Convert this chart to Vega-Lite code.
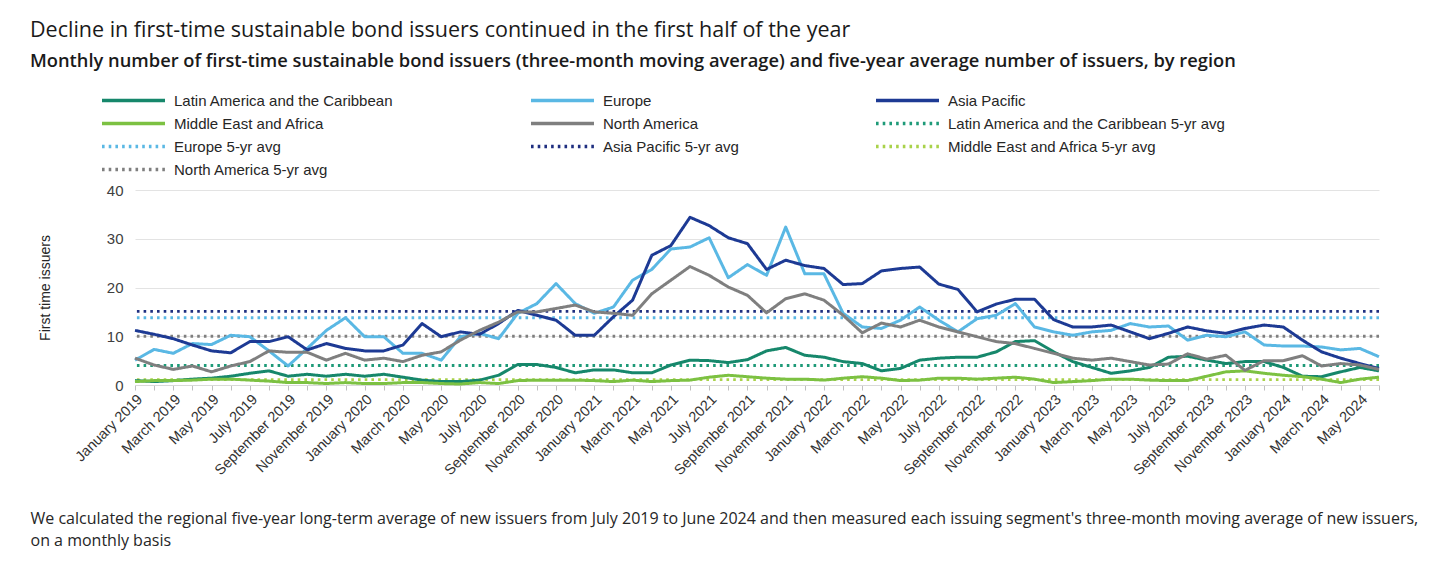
{
  "$schema": "https://vega.github.io/schema/vega-lite/v6.json",
  "autosize": {"type": "none"},
  "width": 1244,
  "height": 195,
  "padding": {"left": 135, "top": 190, "right": 59, "bottom": 179},
  "background": "white",
  "title": {
    "text": "Decline in first-time sustainable bond issuers continued in the first half of the year",
    "subtitle": "Monthly number of first-time sustainable bond issuers (three-month moving average) and five-year average number of issuers, by region",
    "anchor": "start",
    "frame": "group",
    "dx": -105,
    "font": "Open Sans",
    "fontSize": 21.5,
    "fontWeight": 400,
    "color": "#1a1a1a",
    "subtitleFont": "Open Sans",
    "subtitleFontSize": 18.3,
    "subtitleFontWeight": 600,
    "subtitleColor": "#1a1a1a",
    "subtitlePadding": 11,
    "offset": 19
  },
  "datasets": {
    "monthly": [
      {"m": "2019-01-15", "Latin America and the Caribbean": 0.9, "Europe": 5.1, "Asia Pacific": 11.2, "Middle East and Africa": 0.7, "North America": 5.5},
      {"m": "2019-02-15", "Latin America and the Caribbean": 0.7, "Europe": 7.3, "Asia Pacific": 10.4, "Middle East and Africa": 0.9, "North America": 4.1},
      {"m": "2019-03-15", "Latin America and the Caribbean": 0.9, "Europe": 6.5, "Asia Pacific": 9.5, "Middle East and Africa": 0.9, "North America": 3.2},
      {"m": "2019-04-15", "Latin America and the Caribbean": 1.2, "Europe": 8.5, "Asia Pacific": 8.2, "Middle East and Africa": 1.0, "North America": 3.9},
      {"m": "2019-05-15", "Latin America and the Caribbean": 1.4, "Europe": 8.3, "Asia Pacific": 7.0, "Middle East and Africa": 1.2, "North America": 2.7},
      {"m": "2019-06-15", "Latin America and the Caribbean": 1.8, "Europe": 10.2, "Asia Pacific": 6.6, "Middle East and Africa": 1.2, "North America": 3.9},
      {"m": "2019-07-15", "Latin America and the Caribbean": 2.4, "Europe": 9.9, "Asia Pacific": 8.9, "Middle East and Africa": 1.0, "North America": 4.8},
      {"m": "2019-08-15", "Latin America and the Caribbean": 2.9, "Europe": 7.0, "Asia Pacific": 8.9, "Middle East and Africa": 0.8, "North America": 7.0},
      {"m": "2019-09-15", "Latin America and the Caribbean": 1.8, "Europe": 3.9, "Asia Pacific": 9.9, "Middle East and Africa": 0.5, "North America": 6.7},
      {"m": "2019-10-15", "Latin America and the Caribbean": 2.2, "Europe": 7.5, "Asia Pacific": 7.2, "Middle East and Africa": 0.5, "North America": 6.7},
      {"m": "2019-11-15", "Latin America and the Caribbean": 1.8, "Europe": 11.2, "Asia Pacific": 8.5, "Middle East and Africa": 0.3, "North America": 5.1},
      {"m": "2019-12-15", "Latin America and the Caribbean": 2.2, "Europe": 13.8, "Asia Pacific": 7.5, "Middle East and Africa": 0.5, "North America": 6.5},
      {"m": "2020-01-15", "Latin America and the Caribbean": 1.8, "Europe": 9.9, "Asia Pacific": 7.0, "Middle East and Africa": 0.3, "North America": 5.1},
      {"m": "2020-02-15", "Latin America and the Caribbean": 2.2, "Europe": 9.9, "Asia Pacific": 7.0, "Middle East and Africa": 0.3, "North America": 5.5},
      {"m": "2020-03-15", "Latin America and the Caribbean": 1.6, "Europe": 6.5, "Asia Pacific": 8.2, "Middle East and Africa": 0.5, "North America": 4.8},
      {"m": "2020-04-15", "Latin America and the Caribbean": 1.0, "Europe": 6.5, "Asia Pacific": 12.6, "Middle East and Africa": 0.5, "North America": 6.1},
      {"m": "2020-05-15", "Latin America and the Caribbean": 0.7, "Europe": 5.1, "Asia Pacific": 9.9, "Middle East and Africa": 0.3, "North America": 6.8},
      {"m": "2020-06-15", "Latin America and the Caribbean": 0.7, "Europe": 9.9, "Asia Pacific": 10.9, "Middle East and Africa": 0.2, "North America": 9.2},
      {"m": "2020-07-15", "Latin America and the Caribbean": 1.0, "Europe": 10.6, "Asia Pacific": 10.4, "Middle East and Africa": 0.5, "North America": 11.2},
      {"m": "2020-08-15", "Latin America and the Caribbean": 2.0, "Europe": 9.5, "Asia Pacific": 12.6, "Middle East and Africa": 0.3, "North America": 12.9},
      {"m": "2020-09-15", "Latin America and the Caribbean": 4.2, "Europe": 14.7, "Asia Pacific": 15.3, "Middle East and Africa": 0.9, "North America": 15.0},
      {"m": "2020-10-15", "Latin America and the Caribbean": 4.2, "Europe": 16.7, "Asia Pacific": 14.3, "Middle East and Africa": 1.0, "North America": 15.0},
      {"m": "2020-11-15", "Latin America and the Caribbean": 3.6, "Europe": 20.8, "Asia Pacific": 13.3, "Middle East and Africa": 1.0, "North America": 15.7},
      {"m": "2020-12-15", "Latin America and the Caribbean": 2.5, "Europe": 16.7, "Asia Pacific": 10.2, "Middle East and Africa": 1.0, "North America": 16.4},
      {"m": "2021-01-15", "Latin America and the Caribbean": 3.1, "Europe": 14.7, "Asia Pacific": 10.2, "Middle East and Africa": 0.9, "North America": 15.0},
      {"m": "2021-02-15", "Latin America and the Caribbean": 3.1, "Europe": 16.0, "Asia Pacific": 14.0, "Middle East and Africa": 0.7, "North America": 14.7},
      {"m": "2021-03-15", "Latin America and the Caribbean": 2.5, "Europe": 21.5, "Asia Pacific": 17.4, "Middle East and Africa": 1.0, "North America": 14.3},
      {"m": "2021-04-15", "Latin America and the Caribbean": 2.5, "Europe": 23.7, "Asia Pacific": 26.6, "Middle East and Africa": 0.7, "North America": 18.7},
      {"m": "2021-05-15", "Latin America and the Caribbean": 4.1, "Europe": 27.9, "Asia Pacific": 28.6, "Middle East and Africa": 0.9, "North America": 21.5},
      {"m": "2021-06-15", "Latin America and the Caribbean": 5.1, "Europe": 28.3, "Asia Pacific": 34.4, "Middle East and Africa": 1.0, "North America": 24.3},
      {"m": "2021-07-15", "Latin America and the Caribbean": 5.0, "Europe": 30.2, "Asia Pacific": 32.7, "Middle East and Africa": 1.6, "North America": 22.5},
      {"m": "2021-08-15", "Latin America and the Caribbean": 4.6, "Europe": 22.0, "Asia Pacific": 30.2, "Middle East and Africa": 2.0, "North America": 20.1},
      {"m": "2021-09-15", "Latin America and the Caribbean": 5.2, "Europe": 24.7, "Asia Pacific": 29.0, "Middle East and Africa": 1.7, "North America": 18.4},
      {"m": "2021-10-15", "Latin America and the Caribbean": 7.0, "Europe": 22.5, "Asia Pacific": 23.7, "Middle East and Africa": 1.4, "North America": 14.8},
      {"m": "2021-11-15", "Latin America and the Caribbean": 7.7, "Europe": 32.4, "Asia Pacific": 25.6, "Middle East and Africa": 1.2, "North America": 17.7},
      {"m": "2021-12-15", "Latin America and the Caribbean": 6.1, "Europe": 22.8, "Asia Pacific": 24.5, "Middle East and Africa": 1.2, "North America": 18.7},
      {"m": "2022-01-15", "Latin America and the Caribbean": 5.7, "Europe": 22.8, "Asia Pacific": 23.9, "Middle East and Africa": 1.0, "North America": 17.4},
      {"m": "2022-02-15", "Latin America and the Caribbean": 4.8, "Europe": 14.7, "Asia Pacific": 20.6, "Middle East and Africa": 1.4, "North America": 14.3},
      {"m": "2022-03-15", "Latin America and the Caribbean": 4.4, "Europe": 11.9, "Asia Pacific": 20.8, "Middle East and Africa": 1.7, "North America": 10.7},
      {"m": "2022-04-15", "Latin America and the Caribbean": 2.9, "Europe": 11.6, "Asia Pacific": 23.4, "Middle East and Africa": 1.4, "North America": 12.7},
      {"m": "2022-05-15", "Latin America and the Caribbean": 3.4, "Europe": 13.3, "Asia Pacific": 23.9, "Middle East and Africa": 0.9, "North America": 11.9},
      {"m": "2022-06-15", "Latin America and the Caribbean": 5.1, "Europe": 16.0, "Asia Pacific": 24.2, "Middle East and Africa": 1.0, "North America": 13.3},
      {"m": "2022-07-15", "Latin America and the Caribbean": 5.5, "Europe": 13.3, "Asia Pacific": 20.7, "Middle East and Africa": 1.4, "North America": 11.9},
      {"m": "2022-08-15", "Latin America and the Caribbean": 5.7, "Europe": 10.9, "Asia Pacific": 19.6, "Middle East and Africa": 1.4, "North America": 10.9},
      {"m": "2022-09-15", "Latin America and the Caribbean": 5.7, "Europe": 13.6, "Asia Pacific": 15.0, "Middle East and Africa": 1.2, "North America": 9.9},
      {"m": "2022-10-15", "Latin America and the Caribbean": 6.8, "Europe": 14.3, "Asia Pacific": 16.6, "Middle East and Africa": 1.4, "North America": 8.9},
      {"m": "2022-11-15", "Latin America and the Caribbean": 8.9, "Europe": 16.7, "Asia Pacific": 17.6, "Middle East and Africa": 1.6, "North America": 8.5},
      {"m": "2022-12-15", "Latin America and the Caribbean": 9.1, "Europe": 11.9, "Asia Pacific": 17.6, "Middle East and Africa": 1.2, "North America": 7.5},
      {"m": "2023-01-15", "Latin America and the Caribbean": 6.8, "Europe": 10.9, "Asia Pacific": 13.4, "Middle East and Africa": 0.5, "North America": 6.5},
      {"m": "2023-02-15", "Latin America and the Caribbean": 4.8, "Europe": 10.2, "Asia Pacific": 11.9, "Middle East and Africa": 0.7, "North America": 5.5},
      {"m": "2023-03-15", "Latin America and the Caribbean": 3.6, "Europe": 10.9, "Asia Pacific": 11.9, "Middle East and Africa": 0.9, "North America": 5.1},
      {"m": "2023-04-15", "Latin America and the Caribbean": 2.4, "Europe": 11.2, "Asia Pacific": 12.3, "Middle East and Africa": 1.2, "North America": 5.5},
      {"m": "2023-05-15", "Latin America and the Caribbean": 2.9, "Europe": 12.6, "Asia Pacific": 10.9, "Middle East and Africa": 1.2, "North America": 4.8},
      {"m": "2023-06-15", "Latin America and the Caribbean": 3.6, "Europe": 11.9, "Asia Pacific": 9.5, "Middle East and Africa": 1.0, "North America": 4.1},
      {"m": "2023-07-15", "Latin America and the Caribbean": 5.7, "Europe": 12.1, "Asia Pacific": 10.6, "Middle East and Africa": 0.9, "North America": 4.3},
      {"m": "2023-08-15", "Latin America and the Caribbean": 5.9, "Europe": 9.2, "Asia Pacific": 11.9, "Middle East and Africa": 0.9, "North America": 6.4},
      {"m": "2023-09-15", "Latin America and the Caribbean": 5.1, "Europe": 10.2, "Asia Pacific": 11.1, "Middle East and Africa": 1.8, "North America": 5.3},
      {"m": "2023-10-15", "Latin America and the Caribbean": 4.4, "Europe": 9.9, "Asia Pacific": 10.6, "Middle East and Africa": 2.7, "North America": 6.1},
      {"m": "2023-11-15", "Latin America and the Caribbean": 4.8, "Europe": 10.9, "Asia Pacific": 11.6, "Middle East and Africa": 2.9, "North America": 3.0},
      {"m": "2023-12-15", "Latin America and the Caribbean": 4.8, "Europe": 8.2, "Asia Pacific": 12.3, "Middle East and Africa": 2.4, "North America": 5.0},
      {"m": "2024-01-15", "Latin America and the Caribbean": 3.6, "Europe": 8.0, "Asia Pacific": 11.9, "Middle East and Africa": 2.0, "North America": 5.0},
      {"m": "2024-02-15", "Latin America and the Caribbean": 1.8, "Europe": 8.0, "Asia Pacific": 9.2, "Middle East and Africa": 1.7, "North America": 6.0},
      {"m": "2024-03-15", "Latin America and the Caribbean": 1.7, "Europe": 7.8, "Asia Pacific": 6.8, "Middle East and Africa": 1.2, "North America": 3.9},
      {"m": "2024-04-15", "Latin America and the Caribbean": 2.7, "Europe": 7.2, "Asia Pacific": 5.5, "Middle East and Africa": 0.5, "North America": 4.4},
      {"m": "2024-05-15", "Latin America and the Caribbean": 3.6, "Europe": 7.5, "Asia Pacific": 4.4, "Middle East and Africa": 1.2, "North America": 4.1},
      {"m": "2024-06-15", "Latin America and the Caribbean": 2.9, "Europe": 5.8, "Asia Pacific": 3.4, "Middle East and Africa": 1.6, "North America": 3.2}
    ],
    "averages": [
      {"series": "Latin America and the Caribbean 5-yr avg", "value": 4.0},
      {"series": "Europe 5-yr avg", "value": 13.8},
      {"series": "Asia Pacific 5-yr avg", "value": 15.1},
      {"series": "Middle East and Africa 5-yr avg", "value": 1.1},
      {"series": "North America 5-yr avg", "value": 10.0}
    ]
  },
  "layer": [
    {
      "data": {"name": "averages"},
      "mark": {"type": "rule", "strokeWidth": 2.8, "strokeCap": "butt"},
      "encoding": {
        "y": {"field": "value", "type": "quantitative"},
        "color": {"field": "series", "type": "nominal", "title": null},
        "strokeDash": {"field": "series", "type": "nominal", "title": null}
      }
    },
    {
      "data": {"name": "monthly"},
      "transform": [
        {"fold": ["Latin America and the Caribbean", "Europe", "Asia Pacific", "Middle East and Africa", "North America"], "as": ["series", "value"]}
      ],
      "mark": {"type": "line", "strokeWidth": 3, "strokeJoin": "round"},
      "encoding": {
        "x": {
          "field": "m",
          "timeUnit": "yearmonth",
          "type": "ordinal",
          "scale": {"type": "point", "padding": 0},
          "axis": {
            "title": ["We calculated the regional five-year long-term average of new issuers from July 2019 to June 2024 and then measured each issuing segment's three-month moving average of new issuers,", "on a monthly basis"],
            "titleFont": "Open Sans",
            "titleFontSize": 16,
            "titleFontWeight": 400,
            "titleColor": "#262626",
            "titleAnchor": "start",
            "titleAlign": "left",
            "titleBaseline": "alphabetic",
            "titleLineHeight": 22,
            "titleX": -105,
            "titleY": 138,
            "labelExpr": "month(datum.value) % 2 == 0 ? timeFormat(datum.value, '%B %Y') : ''",
            "labelAngle": -45,
            "labelOverlap": false,
            "labelFont": "Liberation Sans",
            "labelFontSize": 14.5,
            "labelColor": "#333333",
            "labelPadding": 2,
            "tickSize": 5,
            "tickColor": "#bfbfbf",
            "domainColor": "#d9d9d9",
            "grid": false
          }
        },
        "y": {
          "field": "value",
          "type": "quantitative",
          "scale": {"domain": [0, 40]},
          "axis": {
            "title": "First time issuers",
            "titleFont": "Liberation Sans",
            "titleFontSize": 14,
            "titleFontWeight": 400,
            "titleColor": "#262626",
            "titleX": -90,
            "titleY": 97.5,
            "titleAngle": -90,
            "titleAlign": "center",
            "titleBaseline": "middle",
            "values": [0, 5, 10, 15, 20, 25, 30, 35, 40],
            "labelFont": "Liberation Sans",
            "labelFontSize": 15,
            "labelColor": "#404040",
            "labelPadding": 12,
            "ticks": false,
            "domain": false,
            "grid": true,
            "gridColor": "#e3e3e3",
            "gridWidth": 1
          }
        },
        "color": {
          "field": "series",
          "type": "nominal",
          "title": null,
          "scale": {
            "domain": ["Latin America and the Caribbean", "Europe", "Asia Pacific", "Middle East and Africa", "North America", "Latin America and the Caribbean 5-yr avg", "Europe 5-yr avg", "Asia Pacific 5-yr avg", "Middle East and Africa 5-yr avg", "North America 5-yr avg"],
            "range": ["#16876b", "#5ab8e4", "#1d3a94", "#7cc142", "#7f7f7f", "#1e9a78", "#5ab8e4", "#1f2f80", "#a9d24a", "#7f7f7f"]
          }
        },
        "strokeDash": {
          "field": "series",
          "type": "nominal",
          "title": null,
          "scale": {
            "domain": ["Latin America and the Caribbean", "Europe", "Asia Pacific", "Middle East and Africa", "North America", "Latin America and the Caribbean 5-yr avg", "Europe 5-yr avg", "Asia Pacific 5-yr avg", "Middle East and Africa 5-yr avg", "North America 5-yr avg"],
            "range": [[1, 0], [1, 0], [1, 0], [1, 0], [1, 0], [2.6, 4.1], [2.6, 4.1], [2.6, 4.1], [2.6, 4.1], [2.6, 4.1]]
          }
        }
      }
    }
  ],
  "config": {
    "view": {"stroke": null},
    "legend": {
      "orient": "none",
      "direction": "horizontal",
      "legendX": -35,
      "legendY": -101,
      "padding": 0,
      "columns": 3,
      "gridAlign": "each",
      "columnPadding": 135,
      "rowPadding": 0,
      "clipHeight": 23,
      "symbolType": "stroke",
      "symbolSize": 3969,
      "symbolStrokeWidth": 3.5,
      "labelFont": "Liberation Sans",
      "labelFontSize": 15,
      "labelColor": "#262626",
      "labelOffset": 7,
      "labelLimit": 400
    }
  }
}
